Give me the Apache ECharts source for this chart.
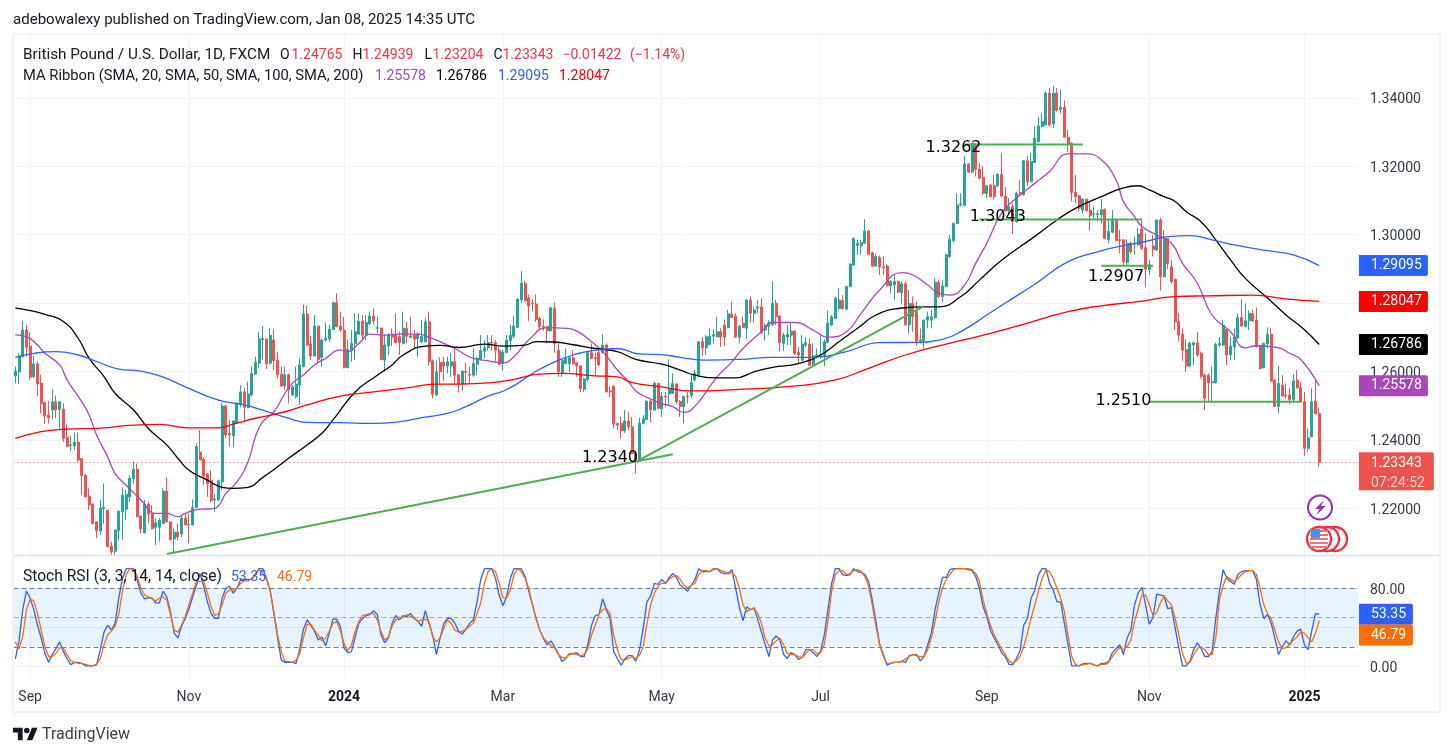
<!DOCTYPE html>
<html>
<head>
<meta charset="utf-8">
<title>GBP/USD daily</title>
<style>html,body{margin:0;padding:0;background:#fff}#chart{width:1453px;height:756px}</style>
<script src="https://cdn.jsdelivr.net/npm/echarts@6/dist/echarts.min.js"></script>
</head>
<body>
<div id="chart"></div>
<script>
// Daily FXCM GBP/USD candles, stored in units of 0.0001 USD.
const opens = [
12587,12599,12643,12721,12674,12585,12622,12566,12509,12472,
12487,12511,12489,12490,12408,12383,12382,12393,12345,12297,
12235,12212,12160,12134,12198,12194,12089,12074,12134,12189,
12197,12233,12286,12314,12177,12128,12212,12183,12144,12144,
12155,12250,12160,12110,12130,12124,12171,12153,12151,12202,
12364,12343,12300,12282,12224,12224,12277,12499,12419,12412,
12448,12503,12540,12495,12531,12592,12624,12693,12695,12624,
12692,12633,12592,12558,12590,12531,12526,12560,12614,12768,
12680,12645,12733,12641,12692,12695,12723,12801,12733,12721,
12611,12664,12682,12709,12747,12706,12739,12762,12726,12727,
12633,12674,12709,12709,12702,12682,12726,12704,12706,12696,
12687,12687,12745,12631,12531,12626,12627,12616,12616,12628,
12590,12563,12599,12592,12589,12621,12635,12659,12670,12685,
12684,12662,12623,12655,12690,12703,12729,12809,12858,12815,
12799,12797,12755,12731,12731,12719,12784,12661,12596,12623,
12623,12640,12625,12616,12548,12577,12655,12640,12655,12655,
12677,12543,12557,12448,12448,12426,12455,12438,12362,12337,
12448,12459,12513,12487,12565,12490,12528,12534,12536,12563,
12512,12497,12527,12530,12575,12589,12687,12669,12679,12703,
12701,12716,12736,12728,12768,12762,12700,12741,12726,12809,
12770,12785,12789,12721,12731,12736,12799,12762,12682,12701,
12706,12718,12655,12633,12677,12680,12618,12643,12643,12643,
12685,12736,12755,12784,12807,12782,12848,12911,12968,12967,
12975,13011,12947,12908,12933,12906,12908,12850,12853,12863,
12830,12856,12736,12799,12775,12692,12690,12750,12750,12757,
12861,12819,12848,12936,12983,13033,13087,13085,13207,13183,
13265,13191,13168,13121,13145,13143,13143,13177,13113,13070,
13082,13038,13123,13116,13216,13155,13211,13272,13316,13321,
13414,13324,13414,13365,13373,13285,13268,13124,13114,13072,
13104,13072,13059,13059,13058,13074,12986,13007,13043,12985,
12985,12918,12975,12972,12970,13017,12962,12897,12967,12955,
13043,12877,12989,12906,12869,12747,12709,12664,12616,12677,
12684,12653,12589,12589,12567,12567,12677,12677,12723,12648,
12672,12697,12758,12731,12748,12770,12750,12674,12611,12680,
12709,12575,12498,12560,12531,12531,12518,12575,12552,12511,
12375,12409,12513,12476.5];
const closes = [
12601,12645,12721,12671,12583,12622,12563,12505,12470,12465,
12511,12487,12511,12404,12380,12385,12393,12341,12295,12233,
12209,12155,12134,12200,12202,12087,12072,12136,12191,12238,
12240,12287,12314,12175,12139,12212,12183,12140,12157,12165,
12250,12160,12108,12130,12116,12171,12151,12151,12202,12380,
12341,12294,12272,12222,12227,12280,12499,12414,12414,12455,
12507,12540,12495,12534,12594,12627,12695,12696,12622,12705,
12632,12590,12557,12590,12546,12555,12563,12619,12768,12677,
12645,12733,12635,12692,12697,12723,12801,12731,12721,12611,
12664,12682,12716,12747,12706,12743,12762,12748,12728,12635,
12677,12708,12700,12684,12684,12726,12703,12700,12694,12709,
12703,12745,12628,12533,12599,12599,12616,12628,12628,12589,
12563,12601,12597,12589,12623,12638,12661,12670,12684,12683,
12662,12621,12657,12692,12706,12733,12811,12858,12807,12791,
12797,12752,12731,12729,12719,12786,12682,12599,12633,12638,
12641,12623,12616,12550,12578,12655,12638,12637,12619,12677,
12540,12540,12446,12443,12426,12455,12438,12360,12337,12448,
12462,12513,12487,12565,12492,12528,12526,12547,12565,12511,
12497,12526,12525,12568,12594,12687,12669,12701,12703,12708,
12716,12700,12700,12768,12758,12700,12733,12729,12809,12770,
12780,12789,12713,12733,12741,12799,12760,12684,12706,12708,
12718,12653,12648,12680,12684,12618,12645,12648,12648,12687,
12741,12760,12814,12809,12783,12848,12914,12989,12975,12977,
13011,12943,12908,12936,12906,12904,12851,12863,12863,12832,
12856,12736,12799,12760,12690,12689,12750,12760,12760,12861,
12819,12850,12941,12986,13033,13087,13090,13207,13183,13268,
13191,13165,13121,13143,13111,13111,13177,13113,13070,13082,
13038,13121,13119,13216,13155,13214,13282,13318,13331,13414,
13321,13414,13363,13373,13285,13266,13123,13111,13077,13104,
13070,13055,13061,13061,13072,12989,13009,13043,12983,12983,
12921,12975,12950,12975,13002,12960,12899,12913,12957,13043,
12877,12989,12916,12863,12745,12706,12662,12616,12682,12684,
12648,12586,12521,12567,12570,12679,12682,12736,12648,12674,
12701,12758,12733,12748,12770,12748,12672,12608,12682,12709,
12572,12498,12565,12528,12528,12518,12572,12552,12511,12375,
12407,12511,12476.5,12334.3];
const highs = [
12614,12653,12748,12736,12714,12645,12629,12590,12512,12514,
12548,12530,12512,12507,12445,12412,12421,12422,12346,12300,
12258,12214,12160,12224,12272,12194,12102,12136,12194,12261,
12253,12297,12336,12331,12177,12224,12219,12209,12170,12170,
12258,12290,12160,12141,12155,12180,12185,12185,12226,12390,
12429,12349,12302,12311,12241,12284,12507,12502,12458,12458,
12509,12560,12551,12570,12614,12643,12714,12733,12695,12726,
12724,12658,12614,12614,12594,12560,12614,12638,12795,12792,
12704,12765,12733,12697,12743,12736,12804,12829,12775,12760,
12692,12721,12770,12770,12765,12765,12775,12784,12760,12727,
12709,12711,12726,12770,12716,12775,12745,12760,12721,12716,
12750,12755,12775,12635,12633,12641,12643,12643,12653,12672,
12592,12602,12625,12614,12667,12643,12706,12692,12706,12706,
12692,12670,12664,12706,12736,12762,12814,12894,12865,12825,
12811,12825,12760,12752,12733,12789,12802,12682,12638,12667,
12643,12662,12628,12619,12580,12655,12682,12655,12667,12709,
12682,12557,12557,12448,12467,12487,12482,12467,12365,12465,
12472,12516,12516,12570,12565,12540,12540,12636,12594,12565,
12516,12528,12540,12590,12604,12687,12701,12706,12726,12723,
12760,12726,12752,12780,12804,12770,12736,12760,12811,12819,
12789,12809,12814,12741,12750,12863,12809,12765,12713,12736,
12741,12721,12672,12706,12701,12697,12682,12667,12706,12694,
12778,12765,12819,12843,12823,12850,12916,12992,12986,12985,
13045,13014,12950,12945,12939,12936,12914,12867,12882,12867,
12863,12863,12838,12819,12804,12726,12752,12775,12780,12872,
12869,12867,12945,12999,13035,13121,13121,13230,13209,13268,
13268,13209,13201,13146,13148,13175,13180,13238,13139,13107,
13092,13126,13160,13219,13230,13240,13316,13344,13355,13419,
13429,13435,13429,13424,13392,13307,13270,13175,13116,13107,
13104,13094,13082,13072,13104,13077,13043,13072,13043,13014,
12986,12986,12980,12994,13019,13043,13004,12926,12999,13043,
13050,13014,12989,12926,12871,12770,12726,12694,12687,12687,
12716,12658,12594,12594,12614,12684,12701,12750,12726,12701,
12726,12770,12811,12799,12778,12781,12787,12677,12684,12729,
12726,12577,12616,12589,12565,12550,12592,12604,12570,12540,
12433,12550,12575,12493.9];
const lows = [
12565,12563,12641,12643,12575,12580,12528,12477,12446,12448,
12460,12463,12433,12394,12378,12367,12370,12336,12238,12232,
12194,12153,12113,12121,12155,12085,12063,12063,12106,12108,
12165,12219,12272,12173,12126,12126,12155,12138,12092,12102,
12153,12158,12106,12072,12106,12116,12150,12097,12150,12199,
12341,12267,12233,12216,12189,12222,12253,12404,12380,12378,
12446,12495,12451,12492,12526,12590,12609,12635,12607,12619,
12604,12580,12555,12546,12507,12528,12521,12502,12612,12674,
12633,12643,12626,12614,12687,12687,12721,12729,12714,12609,
12609,12628,12633,12706,12692,12692,12736,12736,12711,12633,
12599,12648,12674,12682,12648,12679,12682,12697,12667,12643,
12682,12684,12616,12521,12528,12565,12573,12594,12584,12560,
12538,12543,12560,12565,12584,12589,12633,12638,12662,12661,
12628,12619,12602,12653,12662,12697,12726,12801,12804,12748,
12775,12745,12723,12719,12682,12716,12655,12584,12584,12621,
12599,12619,12584,12540,12540,12570,12635,12589,12616,12653,
12539,12524,12433,12428,12404,12420,12428,12358,12301,12336,
12446,12458,12451,12484,12489,12467,12497,12499,12534,12504,
12467,12448,12506,12522,12570,12584,12645,12648,12677,12682,
12700,12672,12674,12726,12756,12697,12682,12726,12697,12742,
12743,12770,12711,12690,12706,12733,12736,12658,12660,12677,
12677,12648,12623,12630,12672,12616,12614,12638,12638,12616,
12682,12733,12752,12780,12781,12780,12846,12908,12941,12941,
12973,12941,12904,12906,12882,12882,12848,12828,12809,12828,
12799,12734,12711,12716,12675,12682,12667,12726,12726,12755,
12814,12801,12846,12933,12977,13031,13082,13084,13180,13180,
13170,13162,13116,13107,13108,13102,13139,13109,13068,13058,
13002,13035,13116,13114,13143,13152,13209,13270,13314,13319,
13316,13311,13360,13355,13282,13243,13097,13092,13067,13061,
13067,13012,13043,13038,13033,12986,12975,13004,12980,12945,
12911,12911,12943,12941,12967,12955,12846,12882,12936,12953,
12836,12875,12899,12856,12721,12687,12631,12599,12612,12618,
12643,12579,12487,12511,12508,12565,12672,12674,12618,12633,
12633,12694,12731,12729,12721,12745,12670,12606,12609,12667,
12570,12495,12477,12526,12521,12504,12511,12550,12508,12353,
12365,12407,12474,12320.4];

// Moving averages, read as [bar index, value in 0.0001 USD].
const sma20Points = [[0,12707],[3,12702],[6,12677],[8,12653],[12,12619],[14,12575],[18,12511],[20,12472],[22,12414],[25,12350],[27,12302],[30,12267],[34,12224],[38,12185],[41,12185],[44,12175],[46,12185],[50,12197],[53,12198],[55,12207],[57,12243],[60,12277],[63,12336],[65,12409],[67,12453],[70,12482],[73,12536],[75,12565],[78,12590],[81,12619],[84,12638],[88,12663],[90,12658],[93,12682],[96,12709],[100,12706],[104,12709],[109,12709],[112,12700],[116,12682],[119,12667],[124,12638],[128,12631],[132,12625],[135,12643],[139,12692],[144,12728],[149,12726],[152,12718],[156,12687],[159,12658],[163,12604],[166,12570],[168,12543],[171,12524],[175,12506],[178,12497],[181,12480],[183,12487],[190,12584],[194,12628],[197,12667],[202,12716],[205,12743],[211,12743],[216,12721],[220,12700],[225,12716],[229,12770],[234,12838],[240,12889],[243,12882],[247,12853],[250,12828],[253,12823],[257,12853],[260,12916],[263,12975],[267,13063],[271,13107],[276,13150],[280,13185],[285,13236],[290,13236],[294,13219],[298,13160],[300,13097],[303,13053],[305,13024],[309,12999],[313,12975],[316,12916],[320,12858],[324,12765],[329,12716],[333,12669],[336,12675],[342,12669],[345,12653],[348,12635],[353,12557.8]];
const sma50Points = [[0,12785],[3,12780],[8,12767],[13,12746],[17,12697],[20,12638],[24,12585],[27,12536],[32,12487],[36,12433],[41,12385],[44,12346],[47,12311],[52,12282],[56,12261],[59,12258],[63,12261],[67,12290],[71,12321],[74,12346],[79,12385],[83,12419],[86,12458],[92,12540],[98,12589],[102,12619],[105,12648],[111,12674],[115,12676],[120,12670],[127,12680],[132,12674],[138,12677],[141,12687],[146,12686],[151,12678],[157,12667],[163,12658],[168,12635],[175,12621],[180,12604],[184,12589],[190,12581],[195,12581],[200,12599],[205,12612],[212,12623],[218,12648],[223,12687],[228,12726],[233,12765],[239,12784],[245,12789],[250,12789],[256,12819],[261,12867],[267,12925],[276,12995],[282,13043],[287,13077],[294,13111],[300,13137],[304,13143],[307,13131],[311,13111],[314,13097],[317,13067],[321,13038],[325,12985],[329,12926],[333,12872],[339,12815],[344,12765],[349,12722],[353,12678.6]];
const sma100Points = [[0,12641],[5,12653],[11,12658],[17,12648],[22,12629],[28,12607],[34,12601],[40,12583],[46,12555],[55,12516],[61,12504],[67,12487],[74,12463],[79,12451],[88,12450],[97,12448],[104,12453],[110,12465],[117,12477],[122,12497],[128,12528],[132,12542],[136,12565],[140,12594],[146,12628],[151,12648],[157,12662],[163,12667],[169,12651],[175,12649],[180,12641],[187,12633],[196,12635],[205,12641],[216,12641],[225,12658],[234,12684],[243,12685],[251,12694],[257,12723],[263,12765],[268,12800],[276,12855],[285,12921],[293,12950],[300,12968],[306,12980],[312,12994],[318,12997],[324,12985],[330,12970],[339,12953],[346,12941],[353,12909.5]];
const sma200Points = [[0,12404],[7,12424],[14,12431],[23,12434],[32,12443],[39,12445],[47,12435],[55,12435],[59,12446],[65,12463],[73,12482],[79,12502],[88,12528],[97,12540],[106,12552],[114,12563],[120,12563],[129,12567],[135,12577],[142,12592],[148,12594],[157,12587],[163,12584],[167,12567],[175,12555],[183,12543],[197,12548],[210,12556],[222,12575],[231,12609],[241,12648],[252,12680],[261,12703],[267,12720],[272,12735],[285,12775],[294,12792],[304,12804],[314,12819],[323,12821],[335,12823],[344,12812],[353,12804.7]];

// Stochastic RSI lines, one value per bar.
const stochK = [
7.5,26,58,77,70,58,42,29,13,4,
12,18,25,15,8,1.5,4,4,3,0.5,
0.5,0.5,1.5,17,35,42,37,44,70,90,
100,100,100,87.5,75,69,70,70,65,65,
77,71,56,34,29,41,49,59,71,83,
95,82,66,54,49,49,70,80,82,75,
80,89,89,89,89,94,100,100,90,78,
54,29,6.5,4,4,4,3,18,38,47.5,
42,36,27,30,21,34,48.5,48,41,18.5,
14,15,30,44,49,52,53,57,53,32,
24,29,44,52,47.5,52,51,54,49,46,
41,57,44,32,12,29,44,49,49,44,
36,33,38,44,47.5,66,89,100,100,100,
90,73,62,71,90,100,100,100,92,77,
63,49,37,28,22,26,20,13,5,8,
13,13,14,10,10,22,42,52,53,69,
58,49,15,8,1,7.5,11,11,5,17,
39,66,72,85,84,89,85,91,95,91,
83,80,77,83,89,100,97,97,97,100,
100,96,95,95,99,80,61,46.5,61,58,
60,47.5,35,22,10,27,31,27,12,8,
14,12,7,9,17,17,14,10,15,32,
58,85,100,100,94,93,94,100,97,96,
94,87,68,46,22.5,12,1,3,4,4,
5,4,11,12,12,5.5,10,22,34,58,
75,91,91,99,100,100,100,100,99,98,
92,80,61,51,37,29,22.5,14,10,2,
1.5,8,16,42,49,70,78,94,100,100,
85,78,66,66,44,22,0.5,0.5,0.5,2.5,
3,3,1.5,0.5,3,3,5,14,18,22,
12,29,37,63,75,81,63,43,50,74,
73,72,59,60,39,18.5,0.5,0.5,5,17,
24,18.5,10,10,15,49,77,99,90,87,
84,94,97,98,98,98,89,63,49,53,
44,29,12,20,26,22,30,36,38,22,
17,37,54,53.35];
const stochD = [
25,18,30,58,69,67,54,37,20,10,
10,13,19,18,12,5.5,4,3,3,2,
1,0.5,2,8,22,32,36,41,53,77,
94,100,99,92,80,73,71,69,67,70,
71,68,53,37,35,42,51,63,75,87,
87,87,75,61,52,54,63,75,78,78,
80,85,87.5,87.5,90,95,99,95,89,77,
56,32,15,5,5,4,6.5,13,29,43,
43,37,32,26,29,36,44,46,36,23,
16,22,36,46,52,53,54,54,47.5,36,
27,30,41,47.5,50,50,53,51,49,46,
47.5,48,46,30,25,29,39,47.5,44,37,
35,36,38,41,44,54,65,85,97,100,
97,85,70,70,78,94,100,97,90,80,
63,48,37,29,25,21,19,12,9,8,
12,13,12,10.5,12,18,32,42,53,58,
59,54,32,17,6.5,6.5,8,10,8,11.5,
20,44,63,75,82,85,85,89,92,93,
89,83,80,83,85,94,98,98,97,99,
100,98,97,95,96,92,80,63,56,58,
59,54,44,29,21,22,26,29,22,13,
12,12,10,9,13,17,17,13,14,22,
46,77,94,98,98,94,95,98,99,97,
92,82,63,41,22,10,3,3,4,4,
5,7.5,10,12,11,10,10,17,29,46,
66,80,89,94,99,100,100,100,100,99,
95,87,68,54,42,32,25,18,12,5.5,
3,5.5,10,20,34,49,63,77,90,99,
97,90,80,70,56,32,10,2,0.5,1.5,
2,3,1.5,0.5,2,2,4,10,15,19,
17,20,27,46,59,73,73,63,52,55,
65,72,67,63,49,32,13,3,4,11.5,
18,20,17,12,12,29,68,83,92,89,
87,90,94,97,98,98,94,80,63,54,
49,37,25,18,19,22,27,30,35,34,
29,25,34,46.79];

// Hand-drawn trendlines and their price notes.
const trendlines = [
  [[41,1.2066],[178,1.2358]],
  [[169,1.2341],[246,1.2791]],
  [[257,1.3264],[289,1.3264]],
  [[261,1.3044],[305,1.3044]],
  [[294,1.2909],[308,1.2909]],
  [[307,1.2511],[348,1.2511]]
];
const noteTexts = ['1.3262','1.3043','1.2907','1.2510','1.2340'];
const notePoints = [[254,1.3254],[266,1.3052],[298,1.2876],[300,1.2513],[161,1.2346]];

// Trading calendar: weekdays without the year-end closures.
const firstDay = '2023-08-28', lastDay = '2025-01-08', emptyBarsAfter = 10;
const closedDays = ['2023-12-25','2024-01-01','2024-12-25','2025-01-01'];
const tickDates = ['2023-09-01','2023-11-01','2024-01-02','2024-03-01','2024-05-01','2024-07-01','2024-09-02','2024-11-01','2025-01-02'];
const tickLabels = ['Sep','Nov','2024','Mar','May','Jul','Sep','Nov','2025'];
const priceTicks = [1.22,1.24,1.26,1.28,1.30,1.32,1.34];
const stochGrid = [0,40,80];
const stochTickLabels = [0,80];
const stochLevels = [80,50,20];

const last = {open:1.24765, high:1.24939, low:1.23204, close:1.23343, change:'\u22120.01422', pct:'(\u22121.14%)', countdown:'07:24:52'};
const maLast = {sma20:1.25578, sma50:1.26786, sma100:1.29095, sma200:1.28047};
const stochLast = {k:53.35, d:46.79};

const UP = '#26a69a', DOWN = '#ef5350', TEXT = '#131722', AXIS_TEXT = '#333a45';
const C20 = '#ab47bc', C50 = '#000000', C100 = '#2962ff', C200 = '#ff0000', CK = '#2962ff', CD = '#ff6d00', TREND = '#4caf50';
const FONT = 'Roboto, sans-serif';

const dates = [];
for (let d = new Date(firstDay + 'T00:00:00Z'); d <= new Date(lastDay + 'T00:00:00Z'); d = new Date(+d + 864e5)) {
  const s = d.toISOString().slice(0, 10), w = d.getUTCDay();
  if (w !== 0 && w !== 6 && !closedDays.includes(s)) dates.push(s);
}
for (let i = 1; i <= emptyBarsAfter; i++) dates.push('+' + i);
const lastBar = opens.length - 1;
const tickIndex = tickDates.map(s => dates.indexOf(s));
const isTick = i => tickIndex.includes(i);

const px = v => v / 10000;
const candles = opens.map((o, i) => [px(o), px(closes[i]), px(lows[i]), px(highs[i])]);
const maLine = (name, pts, color) => ({
  name, type:'line', xAxisIndex:0, yAxisIndex:0, data:pts.map(p => [p[0], px(p[1])]),
  showSymbol:false, smooth:0.5, lineStyle:{color, width:1.3}, silent:true, z:5
});
const tag = (axis, value, text, bg, opt = {}) => ({
  type:'scatter', xAxisIndex:axis, yAxisIndex:axis, symbolSize:0, silent:true, z:30, clip:false,
  itemStyle:{opacity:1},
  data:[[lastBar, value]],
  label:{show:true, position:'right', distance:39.7, formatter:opt.formatter || text, color:'#fff', fontFamily:FONT, fontSize:14,
    backgroundColor:bg, width:opt.width || 57, height:opt.height || 20, lineHeight:21, padding:[1,0,0,12], align:'left',
    borderRadius:[0,2,2,0], offset:opt.offset || [0,0], rich:opt.rich}
});

const splitX = {show:true, alignWithLabel:true, interval:(i) => isTick(i), lineStyle:{color:'#f2f3f7', width:1}};
const series = [
  {type:'candlestick', name:'GBPUSD', xAxisIndex:0, yAxisIndex:0, data:candles, barWidth:2.5, silent:true, z:3,
   itemStyle:{color:UP, color0:DOWN, borderColor:UP, borderColor0:DOWN, borderWidth:1},
   markLine:{silent:true, symbol:'none', animation:false, precision:5, label:{show:false}, lineStyle:{color:DOWN, type:[1,3], width:1}, data:[{yAxis:last.close}]}},
  maLine('SMA20', sma20Points, C20),
  maLine('SMA50', sma50Points, C50),
  maLine('SMA100', sma100Points, C100),
  maLine('SMA200', sma200Points, C200),
  ...trendlines.map(t => ({type:'line', xAxisIndex:0, yAxisIndex:0, data:t, showSymbol:false, silent:true, z:6, lineStyle:{color:TREND, width:2}})),
  {type:'scatter', xAxisIndex:0, yAxisIndex:0, symbolSize:0, silent:true, z:8, data:notePoints, itemStyle:{opacity:1},
   label:{show:true, position:'inside', formatter:p => noteTexts[p.dataIndex], color:'#000', fontFamily:'"DejaVu Sans", sans-serif', fontSize:16}},
  {type:'line', name:'K', xAxisIndex:1, yAxisIndex:1, data:stochK, showSymbol:false, silent:true, z:5, lineStyle:{color:CK, width:1.3},
   markArea:{silent:true, animation:false, itemStyle:{color:'rgba(33,150,243,0.11)'}, data:[[{yAxis:20},{yAxis:80}]]},
   markLine:{silent:true, symbol:'none', animation:false, label:{show:false},
     data:stochLevels.map(v => ({yAxis:v, lineStyle:{color: v === 50 ? '#a6a8b0' : '#787b86', type:[5,3], width:1}}))}},
  {type:'line', name:'D', xAxisIndex:1, yAxisIndex:1, data:stochD, showSymbol:false, silent:true, z:6, lineStyle:{color:CD, width:1.3}},
  tag(0, maLast.sma100, maLast.sma100.toFixed(5), C100),
  tag(0, maLast.sma200, maLast.sma200.toFixed(5), C200),
  tag(0, maLast.sma50, maLast.sma50.toFixed(5), C50),
  tag(0, maLast.sma20, maLast.sma20.toFixed(5), C20),
  tag(0, last.close, '', DOWN, {width:63, height:37, offset:[0,9],
    formatter:'{a|' + last.close.toFixed(5) + '}\n{b|' + last.countdown + '}',
    rich:{a:{color:'#fff', fontFamily:FONT, fontSize:14, lineHeight:20}, b:{color:'rgba(255,255,255,0.75)', fontFamily:FONT, fontSize:14, lineHeight:20}}}),
  tag(1, stochLast.k, stochLast.k.toFixed(2), CK, {width:42}),
  tag(1, stochLast.d, stochLast.d.toFixed(2), CD, {width:42, offset:[0,14.4]})
];

const txt = (x, y, text, fill, extra = {}) => ({
  type:'text', x, y:y + 1, z:50, silent:true,
  style:{text, fill, font:(extra.size || 14) + 'px ' + FONT, verticalAlign:'middle', align:'left'}
});
const rectLine = (x1, y1, x2, y2, color, w) => ({type:'line', z:40, silent:true, shape:{x1,y1,x2,y2}, style:{stroke:color, lineWidth:w}});
const logoPoint = (x, y) => [13 + x * 0.69, 725 + y * 0.69];
const axisRich = {v:{padding:[4,0,0,0], color:AXIS_TEXT, fontFamily:FONT, fontSize:14}};

const stripes = [530,534,538,542,546];
const graphic = [
  // page frame and pane separator
  {type:'rect', z:40, silent:true, shape:{x:13,y:34,width:1427,height:678}, style:{fill:'none', stroke:'#f0f3fa', lineWidth:2}},
  rectLine(14, 555.5, 1439, 555.5, '#e0e3eb', 1.5),
  // header and legends
  txt(13, 19, 'adebowalexy published on TradingView.com, Jan 08, 2025 14:35 UTC', TEXT, {size:15.05}),
  txt(23, 54, 'British Pound / U.S. Dollar, 1D, FXCM', TEXT, {size:15.3}),
  txt(280, 54, 'O', TEXT), txt(291.5, 54, last.open.toFixed(5), '#f23645'),
  txt(352.5, 54, 'H', TEXT), txt(362.5, 54, last.high.toFixed(5), '#f23645'),
  txt(424.5, 54, 'L', TEXT), txt(432.5, 54, last.low.toFixed(5), '#f23645'),
  txt(493.5, 54, 'C', TEXT), txt(502.5, 54, last.close.toFixed(5), '#f23645'),
  txt(562.5, 54, last.change, '#f23645'), txt(630, 54, last.pct, '#f23645'),
  txt(23, 75, 'MA Ribbon (SMA, 20, SMA, 50, SMA, 100, SMA, 200)', TEXT, {size:14.75}),
  txt(375, 75, maLast.sma20.toFixed(5), C20), txt(436, 75, maLast.sma50.toFixed(5), C50),
  txt(498, 75, maLast.sma100.toFixed(5), C100), txt(559, 75, maLast.sma200.toFixed(5), C200),
  txt(23, 576, 'Stoch RSI (3, 3, 14, 14, close)', TEXT, {size:15.6}),
  txt(231, 576, stochLast.k.toFixed(2), CK), txt(277, 576, stochLast.d.toFixed(2), CD),
  // footer wordmark
  {type:'polygon', z:50, silent:true, shape:{points:[[14,22],[7,22],[7,11],[0,11],[0,4],[14,4]].map(p => logoPoint(p[0], p[1]))}, style:{fill:TEXT}},
  {type:'polygon', z:50, silent:true, shape:{points:[[28,22],[20,22],[27.5,4],[35.5,4]].map(p => logoPoint(p[0], p[1]))}, style:{fill:TEXT}},
  {type:'circle', z:50, silent:true, shape:{cx:logoPoint(20,8)[0], cy:logoPoint(20,8)[1], r:2.8}, style:{fill:TEXT}},
  txt(42, 734, 'TradingView', '#3b3f4a', {size:16}),
  // event markers beside the last bar
  {type:'circle', z:45, silent:true, shape:{cx:1320,cy:507.5,r:12}, style:{fill:'#fff', stroke:'#9c27b0', lineWidth:2}},
  {type:'polygon', z:46, silent:true, shape:{points:[[1324,500],[1315,509],[1319.5,509],[1316.5,515],[1325.5,506],[1321,506]]}, style:{fill:'#9c27b0'}},
  {type:'circle', z:45, silent:true, shape:{cx:1335,cy:539,r:12}, style:{fill:'#fff', stroke:'#f0323c', lineWidth:2.4}},
  {type:'circle', z:45, silent:true, shape:{cx:1327,cy:539,r:12}, style:{fill:'#fff', stroke:'#f0323c', lineWidth:2.4}},
  {type:'circle', z:45, silent:true, shape:{cx:1319,cy:539,r:12}, style:{fill:'#fff', stroke:'#f0323c', lineWidth:2.4}},
  ...stripes.map(y => ({type:'rect', z:46, silent:true, shape:{x:1310,y,width:18,height:2}, style:{fill:'#f0707a'}})),
  {type:'rect', z:47, silent:true, shape:{x:1311,y:529,width:9,height:9}, style:{fill:'#4a90e2'}}
];

const chart = echarts.init(document.getElementById('chart'), null, {renderer:'canvas'});
chart.setOption({
  animation:false, backgroundColor:'#ffffff',
  grid:[
    {left:13.5, top:35, width:1344.5, height:520},
    {left:13.5, top:556, width:1344.5, height:121}
  ],
  xAxis:[
    {type:'category', gridIndex:0, data:dates, boundaryGap:true, axisLine:{show:false}, axisTick:{show:false}, axisLabel:{show:false}, splitLine:splitX},
    {type:'category', gridIndex:1, data:dates, boundaryGap:true, axisLine:{show:false}, axisTick:{show:false}, splitLine:splitX,
     axisLabel:{show:true, interval:(i) => isTick(i), margin:13, color:AXIS_TEXT, fontFamily:FONT, fontSize:14,
       formatter:(v, i) => {const k = tickIndex.indexOf(i); if (k < 0) return ''; const t = tickLabels[k]; return /^\d/.test(t) ? '{y|' + t + '}' : t;},
       rich:{y:{fontWeight:'bold', fontFamily:FONT, fontSize:14, color:TEXT}}}}
  ],
  yAxis:[
    {type:'value', gridIndex:0, position:'right', min:1.2063, max:1.3584, axisLine:{show:false},
     axisTick:{show:false, customValues:priceTicks},
     axisLabel:{customValues:priceTicks, margin:12, rich:axisRich, formatter:v => '{v|' + v.toFixed(5) + '}'},
     splitLine:{show:true, lineStyle:{color:'#f2f3f7', width:1}}},
    {type:'value', gridIndex:1, position:'right', min:-11, max:113, axisLine:{show:false},
     axisTick:{show:false, customValues:stochGrid},
     axisLabel:{customValues:stochTickLabels, margin:12, rich:axisRich, formatter:v => '{v|' + v.toFixed(2) + '}'},
     splitLine:{show:true, lineStyle:{color:'#eceef3', width:1}}}
  ],
  series, graphic
});
</script>
</body>
</html>
